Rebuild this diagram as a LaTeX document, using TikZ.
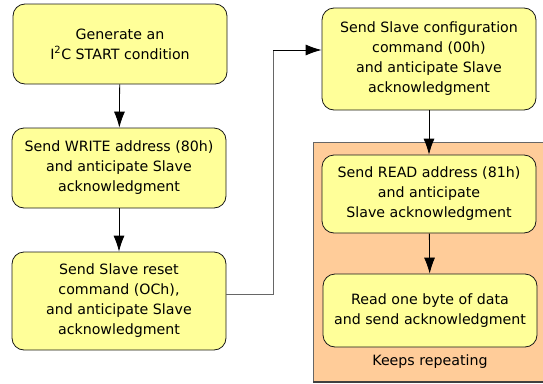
\documentclass[tikz,border=0pt]{standalone}
\usepackage{fontspec}
\setmainfont{DejaVu Sans}
\usetikzlibrary{arrows.meta}
\definecolor{stepyellow}{HTML}{FFFF99}
\definecolor{looporange}{HTML}{FFCC99}
\tikzset{
  stepbox/.style={draw=black!90, line width=0.8pt, fill=stepyellow, rounded corners=12pt,
    minimum width=214pt, align=center, font=\fontsize{14.2}{20}\selectfont, inner sep=1pt},
  flow/.style={-{Latex[length=16pt,width=11pt]}, black, line width=0.8pt},
}
\begin{document}
\begin{tikzpicture}[x=1pt, y=-1pt]

   \useasboundingbox (0,0) rectangle (543,383);
   \fill[looporange] (313,142) rectangle (543,382);
   \draw[draw=black!60, line width=0.8pt] (313,382) -- (313,142) -- (543,142);
   \draw[draw=black!75, line width=1.2pt] (313,382) -- (543,382);

   \node[stepbox, minimum height=80pt] (start) at (120,44) {Generate an\\I\textsuperscript{2}C START condition};
   \node[stepbox, minimum height=80pt] (write) at (119,168) {Send WRITE address (80h)\\and anticipate Slave\\acknowledgment};
   \node[stepbox, minimum height=98pt] (reset) at (119,301) {Send Slave reset\\command (OCh),\\and anticipate Slave\\acknowledgment};
   \node[stepbox, minimum height=102pt] (config) at (429,59) {Send Slave configuration\\command (00h)\\and anticipate Slave\\acknowledgment};
   \node[stepbox, minimum height=78pt] (read) at (429,194) {Send READ address (81h)\\and anticipate\\Slave acknowledgment};
   \node[stepbox, minimum height=73pt] (byte) at (430,310.5) {Read one byte of data\\and send acknowledgment};
   \node[font=\fontsize{14.2}{16}\selectfont] (repeat) at (430,362) {Keeps repeating};

   \draw[flow] (start) -- (write);
   \draw[flow] (write) -- (reset);
   \draw[black!60, line width=1pt] (reset.east |- 0,294) -- (273,294) -- (273,50) -- (300,50);
   \draw[flow] (273,50) -- (config.west |- 0,50);
   \draw[flow] (config) -- (read);
   \draw[flow] (read) -- (byte);
  \end{tikzpicture}
\end{document}
